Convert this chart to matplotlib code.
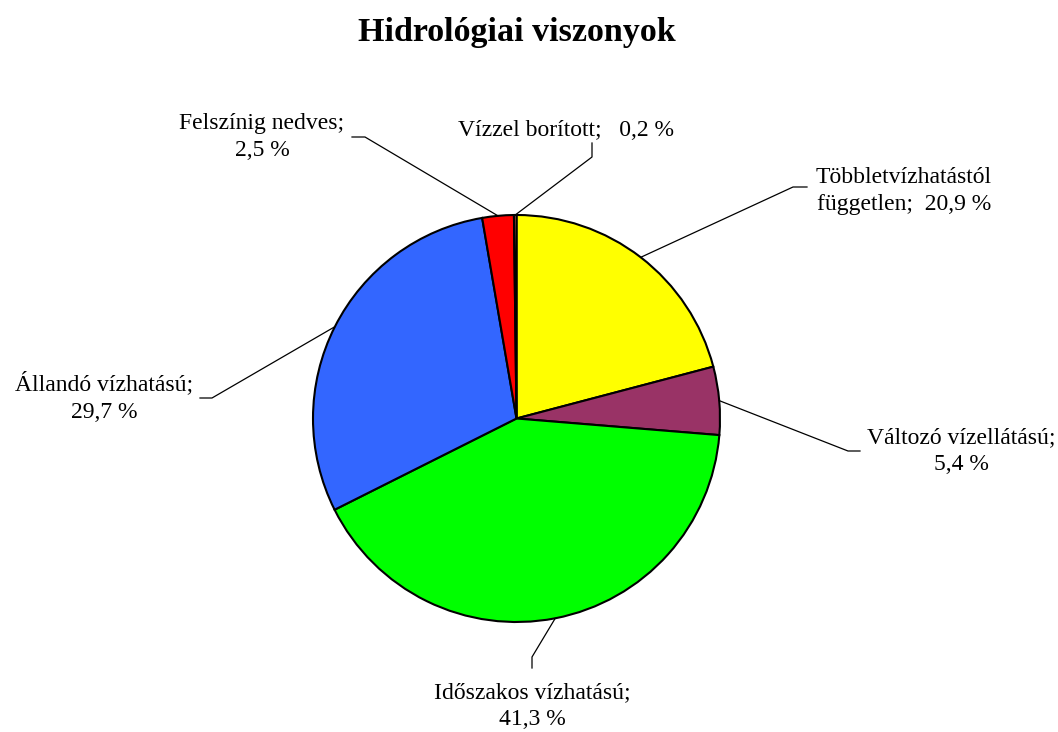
import numpy as np
import matplotlib.pyplot as plt

# Data (clockwise from 12 o'clock)
labels = ["Többletvízhatástól\nfüggetlen;  20,9 %", "Változó vízellátású;\n5,4 %",
          "Időszakos vízhatású;\n41,3 %", "Állandó vízhatású;\n29,7 %",
          "Felszínig nedves;\n2,5 %", "Vízzel borított;   0,2 %"]
shares = [20.9, 5.4, 41.3, 29.7, 2.5, 0.2]
colors = ["#FFFF00", "#993366", "#00FF00", "#3366FF", "#FF0000", "#FF8080"]

W, H = 1058, 732
CX, CY, R = 516.5, 418.5, 203.5  # pie centre / radius in pixels (y downward)

# label centres and leader elbows (pixel coords, y downward)
label_pos = [(904, 191), (961, 451), (532, 706), (104, 397), (262, 137), (566, 130)]
elbows = [[(793, 187), (807, 187)], [(848, 451), (860, 451)],
          [(532, 657), (532, 668)], [(212, 398), (200, 398)],
          [(365, 137), (352, 137)], [(592, 157), (592, 143)]]

plt.rcParams['font.family'] = ['Liberation Serif', 'DejaVu Serif']

fig = plt.figure(figsize=(W / 100, H / 100), dpi=100)
ax = fig.add_axes([0, 0, 1, 1])

ax.pie(shares, colors=colors, startangle=90, counterclock=False,
       center=(CX, H - CY), radius=R,
       wedgeprops=dict(edgecolor="black", linewidth=1.5))
ax.set_xlim(0, W)
ax.set_ylim(0, H)
ax.set_aspect("equal")
ax.axis("off")

# leader lines from slice mid-angle on the rim
cum = np.cumsum([0] + shares)
for i, lab in enumerate(labels):
    mid = np.deg2rad((cum[i] + cum[i + 1]) / 2 / 100 * 360)
    ex, ey = CX + R * np.sin(mid), CY - R * np.cos(mid)
    pts = [(ex, ey)] + elbows[i]
    xs = [p[0] for p in pts]
    ys = [H - p[1] for p in pts]
    ax.plot(xs, ys, color="black", linewidth=0.9)
    lx, ly = label_pos[i]
    ax.text(lx, H - ly, lab, ha="center", va="center", fontsize=17,
            linespacing=1.4)

ax.text(517, H - 32, "Hidrológiai viszonyok", ha="center", va="center",
        fontsize=24.5, fontweight="bold")

fig.savefig("out.png", dpi=100)
